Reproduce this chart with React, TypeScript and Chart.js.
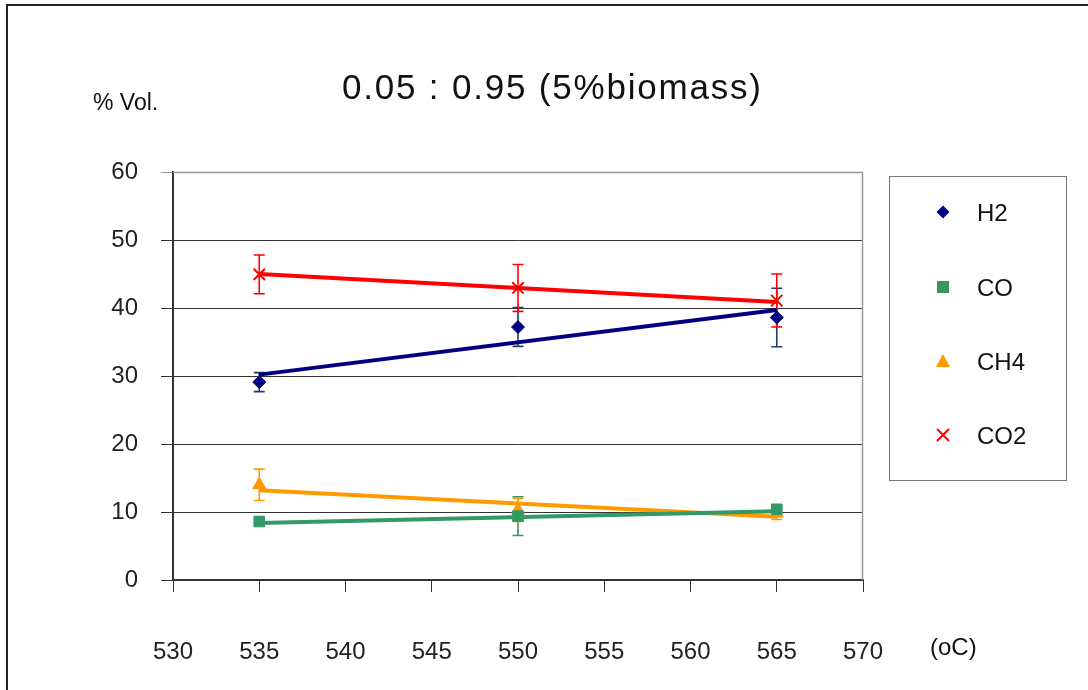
import React, { useEffect, useRef } from "react";
import { Chart, registerables } from "chart.js";

Chart.register(...registerables);

const temps = [535, 550, 565];
const trendX = [535, 565];
const xTicks = [530, 535, 540, 545, 550, 555, 560, 565, 570];
const yTicks = [0, 10, 20, 30, 40, 50, 60];

const seriesNames = ["H2", "CO", "CH4", "CO2"];
const h2 = [29.1, 37.2, 38.6];
const h2Err = [1.4, 2.85, 4.3];
const co = [8.6, 9.4, 10.4];
const coErr = [0.5, 2.85, 0.5];
const ch4 = [14.0, 10.3, 9.8];
const ch4Err = [2.3, 1.7, 0.9];
const co2 = [44.95, 42.95, 41.1];
const co2Err = [2.85, 3.45, 3.9];

const h2Trend = [30.2, 39.7];
const coTrend = [8.4, 10.1];
const ch4Trend = [13.2, 9.3];
const co2Trend = [45.0, 40.9];

const colors = ["#000080", "#339966", "#FF9900", "#FF0000"];
const errColors = ["#1f3f66", "#339966", "#FF9900", "#FF0000"];
const FONT = "'Liberation Sans', Arial, sans-serif";

export default function App() {
  const ref = useRef<HTMLCanvasElement | null>(null);

  useEffect(() => {
    if (!ref.current) return;
    const values = [h2, co, ch4, co2];
    const errs = [h2Err, coErr, ch4Err, co2Err];
    const trends = [h2Trend, coTrend, ch4Trend, co2Trend];
    const styles: any[] = ["rectRot", "rect", "triangle", "crossRot"];
    const radii = [6.5, 7.5, 7.5, 8];

    const datasets: any[] = [];
    seriesNames.forEach((name, i) => {
      datasets.push({
        type: "line",
        label: name + " trend",
        data: trendX.map((x, j) => ({ x, y: trends[i][j] })),
        borderColor: colors[i],
        borderWidth: 4,
        pointRadius: 0,
        fill: false,
        order: 2,
      });
    });
    seriesNames.forEach((name, i) => {
      datasets.push({
        type: "scatter",
        label: name,
        data: temps.map((x, j) => ({ x, y: values[i][j] })),
        showLine: false,
        pointStyle: styles[i],
        pointRadius: radii[i],
        backgroundColor: colors[i],
        borderColor: colors[i],
        borderWidth: i === 3 ? 2 : 1,
        order: 1,
      });
    });

    const decor = {
      id: "decor",
      beforeDatasetsDraw(chart: any) {
        const ctx = chart.ctx;
        const xs = chart.scales.x;
        const ys = chart.scales.y;
        ctx.save();
        ctx.lineWidth = 1.6;
        seriesNames.forEach((_, i) => {
          ctx.strokeStyle = errColors[i];
          temps.forEach((t, j) => {
            const px = xs.getPixelForValue(t);
            const top = ys.getPixelForValue(values[i][j] + errs[i][j]);
            const bot = ys.getPixelForValue(values[i][j] - errs[i][j]);
            ctx.beginPath();
            ctx.moveTo(px, top);
            ctx.lineTo(px, bot);
            ctx.moveTo(px - 5.5, top);
            ctx.lineTo(px + 5.5, top);
            ctx.moveTo(px - 5.5, bot);
            ctx.lineTo(px + 5.5, bot);
            ctx.stroke();
          });
        });
        ctx.restore();
      },
      afterDraw(chart: any) {
        const ctx = chart.ctx;
        const a = chart.chartArea;
        ctx.save();
        // outer frame
        ctx.strokeStyle = "#222";
        ctx.lineWidth = 2;
        ctx.beginPath();
        ctx.moveTo(1088, 5);
        ctx.lineTo(7, 5);
        ctx.lineTo(7, 690);
        ctx.stroke();
        // plot area top/right border
        ctx.strokeStyle = "#999";
        ctx.lineWidth = 1.5;
        ctx.beginPath();
        ctx.moveTo(a.left, a.top + 0.5);
        ctx.lineTo(a.right - 0.5, a.top + 0.5);
        ctx.lineTo(a.right - 0.5, a.bottom);
        ctx.stroke();
        // title
        ctx.fillStyle = "#111";
        ctx.font = "35px " + FONT;
        (ctx as any).letterSpacing = "1.8px";
        ctx.textAlign = "left";
        ctx.textBaseline = "alphabetic";
        ctx.fillText("0.05 : 0.95 (5%biomass)", 342, 98.5);
        (ctx as any).letterSpacing = "0px";
        // axis titles
        ctx.font = "23px " + FONT;
        ctx.fillText("% Vol.", 93, 110);
        ctx.font = "24px " + FONT;
        ctx.fillText("(oC)", 930, 655);
        // legend
        ctx.strokeStyle = "#777";
        ctx.lineWidth = 1;
        ctx.strokeRect(889.5, 176.5, 177, 304);
        const ly = [212, 287, 361, 435];
        const mx = 943;
        seriesNames.forEach((name, i) => {
          const y = ly[i];
          ctx.fillStyle = colors[i];
          ctx.strokeStyle = colors[i];
          ctx.beginPath();
          if (i === 0) {
            ctx.moveTo(mx, y - 6.5);
            ctx.lineTo(mx + 6.5, y);
            ctx.lineTo(mx, y + 6.5);
            ctx.lineTo(mx - 6.5, y);
            ctx.closePath();
            ctx.fill();
          } else if (i === 1) {
            ctx.fillRect(mx - 6, y - 6, 12, 12);
          } else if (i === 2) {
            ctx.moveTo(mx, y - 7);
            ctx.lineTo(mx + 7, y + 6);
            ctx.lineTo(mx - 7, y + 6);
            ctx.closePath();
            ctx.fill();
          } else {
            ctx.lineWidth = 2;
            ctx.moveTo(mx - 6, y - 6);
            ctx.lineTo(mx + 6, y + 6);
            ctx.moveTo(mx + 6, y - 6);
            ctx.lineTo(mx - 6, y + 6);
            ctx.stroke();
          }
          ctx.fillStyle = "#111";
          ctx.font = "24px " + FONT;
          ctx.textAlign = "left";
          ctx.textBaseline = "alphabetic";
          ctx.fillText(name, 977, y + 9);
        });
        ctx.restore();
      },
    };

    const chart = new Chart(ref.current, {
      data: { datasets },
      options: {
        animation: false,
        responsive: false,
        layout: { padding: { top: 172, right: 225, left: 0, bottom: 0 } },
        plugins: { legend: { display: false }, title: { display: false }, tooltip: { enabled: false } },
        scales: {
          x: {
            type: "linear",
            min: 530,
            max: 570,
            afterFit: (s: any) => {
              s.height = 110;
            },
            afterBuildTicks: (s: any) => {
              s.ticks = xTicks.map((v) => ({ value: v }));
            },
            grid: { drawOnChartArea: false, drawTicks: true, tickLength: 12, color: "#333" },
            border: { display: true, color: "#333", width: 2 },
            ticks: { padding: 46, color: "#222", font: { family: FONT, size: 24 } },
          },
          y: {
            type: "linear",
            min: 0,
            max: 60,
            afterFit: (s: any) => {
              s.width = 173;
            },
            afterBuildTicks: (s: any) => {
              s.ticks = yTicks.map((v) => ({ value: v }));
            },
            grid: {
              drawTicks: true,
              tickLength: 12,
              color: (c: any) => (c.tick && c.tick.value === 60 ? "#999" : "#333"),
            },
            border: { display: true, color: "#333", width: 2 },
            ticks: { padding: 23, color: "#222", font: { family: FONT, size: 24 } },
          },
        },
      } as any,
      plugins: [decor],
    } as any);
    return () => chart.destroy();
  }, []);

  return (
    <div style={{ position: "absolute", left: 0, top: 0, width: 1088, height: 690, background: "#fff" }}>
      <canvas ref={ref} width={1088} height={690} style={{ width: 1088, height: 690, display: "block" }} />
    </div>
  );
}
